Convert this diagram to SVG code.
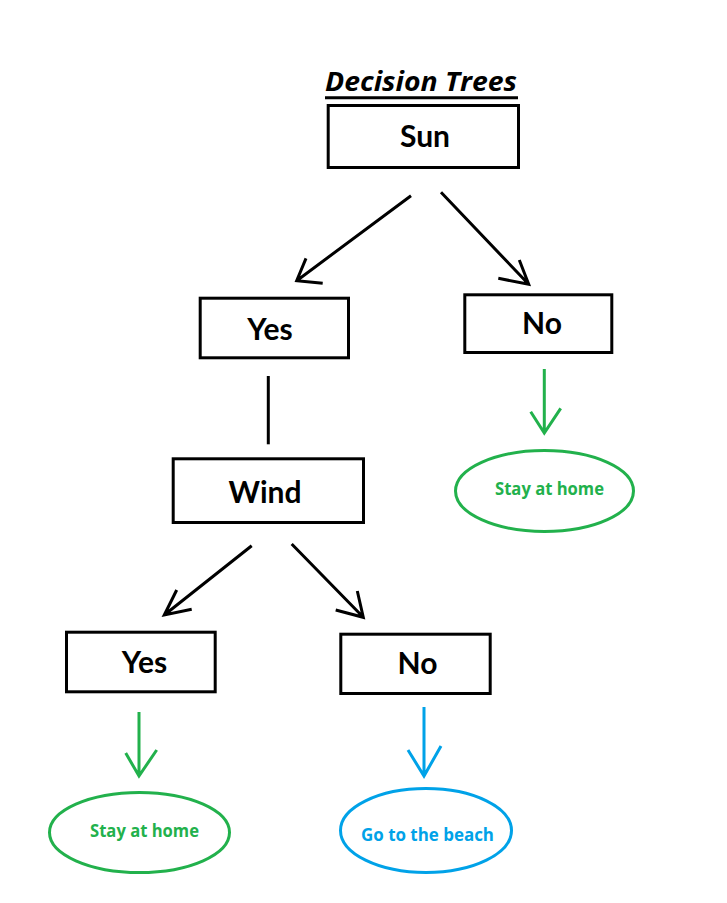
<svg xmlns="http://www.w3.org/2000/svg" width="727" height="903" viewBox="0 0 727 903">
<style>
.box{fill:#fff;stroke:#000;stroke-width:3}
.lbl{font-family:Lato,"Open Sans","Liberation Sans",sans-serif;font-weight:bold;font-size:30px;fill:#000;text-anchor:middle}
.small{font-family:"Open Sans",Lato,"Liberation Sans",sans-serif;font-weight:bold;font-size:17px;text-anchor:middle}
.blk{stroke:#000;stroke-width:3;fill:none}
.grn{stroke:#22B14C;stroke-width:3;fill:none}
.blu{stroke:#00A2E8;stroke-width:3;fill:none}
</style>
<rect width="727" height="903" fill="#fff"/>
<g id="title">
<text x="421" y="91" font-family="'Open Sans',Lato,'Liberation Sans',sans-serif" font-weight="bold" font-style="italic" font-size="26.5" text-anchor="middle" fill="#000" textLength="192" lengthAdjust="spacingAndGlyphs">Decision Trees</text>
<line x1="325" y1="97.7" x2="518" y2="97.7" stroke="#000" stroke-width="3"/>
</g>
<g id="sun"><rect class="box" x="328.2" y="105.5" width="190.3" height="62"/><text class="lbl" x="425" y="147">Sun</text></g>
<g id="yes1"><rect class="box" x="200.2" y="298.2" width="148.3" height="59.6"/><text class="lbl" x="270" y="340">Yes</text></g>
<g id="no1"><rect class="box" x="464.8" y="294.8" width="147" height="57.7"/><text class="lbl" x="542" y="334">No</text></g>
<g id="wind"><rect class="box" x="173.2" y="458.8" width="190.3" height="63.7"/><text class="lbl" x="265" y="503">Wind</text></g>
<g id="yes2"><rect class="box" x="66.5" y="632.2" width="148.7" height="59.6"/><text class="lbl" x="144.5" y="673">Yes</text></g>
<g id="no2"><rect class="box" x="340.8" y="634.2" width="149.4" height="59.3"/><text class="lbl" x="417.5" y="674">No</text></g>
<g id="home1"><ellipse class="grn" cx="544.5" cy="491" rx="89" ry="40.5"/><text class="small" x="549.5" y="495" fill="#22B14C" textLength="109" lengthAdjust="spacingAndGlyphs">Stay at home</text></g>
<g id="home2"><ellipse class="grn" cx="139.5" cy="832.5" rx="90" ry="40"/><text class="small" x="144.5" y="837" fill="#22B14C" textLength="109" lengthAdjust="spacingAndGlyphs">Stay at home</text></g>
<g id="beach"><ellipse class="blu" cx="426" cy="830.5" rx="85.5" ry="42"/><text class="small" x="427.5" y="841" fill="#00A2E8" textLength="133" lengthAdjust="spacingAndGlyphs">Go to the beach</text></g>
<g id="connectors">
<path class="blk" d="M411 195.7L296.7 280.7M306 258.3L296.7 280.7L322.7 283.3"/>
<path class="blk" d="M441 192.3L528.7 284.3M519.3 260L528.7 284.3L498.3 278.3"/>
<path class="blk" d="M268.3 376V444.3"/>
<path class="blk" d="M251.7 545.7L164.3 615M176.7 590L164.3 615L191.7 609.3"/>
<path class="blk" d="M291.7 544L363.3 617.3M357.3 591L363.3 617.3L335.7 610"/>
<path class="grn" d="M544.3 369V433M530.7 411.7L544.3 433L560.7 408.3"/>
<path class="grn" d="M139 712V776M125.7 753L139 776L156.7 750"/>
<path class="blu" d="M424 707V776M408 750L424 776L441 746"/>
</g>
</svg>
